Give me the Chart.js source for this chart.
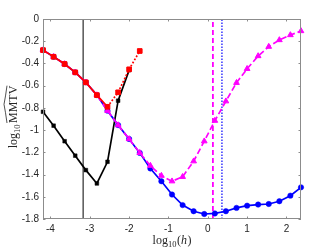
<!DOCTYPE html>
<html>
<head>
<meta charset="utf-8">
<script src="https://cdn.jsdelivr.net/npm/chart.js@4.4.0/dist/chart.umd.min.js"></script>
<style>
  html, body { margin: 0; padding: 0; background: #fff; }
</style>
</head>
<body>
<canvas id="c" width="332" height="249"></canvas>
<script>
// log10(h) grid shared by all curves
const logH = [-4.19, -3.92, -3.64, -3.37, -3.10, -2.82, -2.55, -2.28, -2.00, -1.73,
  -1.46, -1.18, -0.91, -0.64, -0.36, -0.09, 0.18, 0.46, 0.73, 1.00,
  1.28, 1.55, 1.82, 2.10, 2.37];

const redY = [-0.28, -0.34, -0.405, -0.48, -0.57, -0.685, -0.79, -0.66, -0.453, -0.288];
const magentaY = [-0.28, -0.34, -0.405, -0.48, -0.57, -0.685, -0.825, -0.955, -1.08, -1.205,
  -1.32, -1.41, -1.46, -1.42, -1.28, -1.10, -0.915, -0.74, -0.574, -0.448,
  -0.333, -0.249, -0.189, -0.144, -0.108];
const blueY = [-0.28, -0.34, -0.405, -0.48, -0.57, -0.685, -0.825, -0.955, -1.08, -1.205,
  -1.345, -1.46, -1.58, -1.675, -1.73, -1.755, -1.75, -1.73, -1.70, -1.68,
  -1.67, -1.665, -1.64, -1.59, -1.515];
const blackY = [-0.835, -0.96, -1.10, -1.23, -1.36, -1.48, -1.285, -0.735, -0.46];

const vBlackX = -3.17;
const vMagentaX = 0.13;
const vBlueX = 0.36;

const xTicks = [-4, -3, -2, -1, 0, 1, 2];
const yTicks = [0, -0.2, -0.4, -0.6, -0.8, -1, -1.2, -1.4, -1.6, -1.8];
const xRange = [-4.19, 2.37];
const yRange = [-1.8, 0];

const pts = ys => ys.map((y, i) => ({ x: logH[i], y }));
const vline = x => [{ x, y: yRange[0] }, { x, y: yRange[1] }];

const AXIS = '#8c8c8c';
const TXT = '#262626';
const SERIF = '"Liberation Serif", "DejaVu Serif", serif';
const SANS = '10px "Liberation Sans", Arial, sans-serif';

const fmtY = v => (v === 0 ? '0' : String(+v.toFixed(1)));

// MATLAB-like box with inward ticks, tick labels and axis titles
const boxPlugin = {
  id: 'box',
  afterDraw(chart) {
    const { ctx, chartArea: a, scales } = chart;
    ctx.save();
    ctx.strokeStyle = AXIS;
    ctx.lineWidth = 1;
    ctx.strokeRect(a.left + 0.5, a.top + 0.5, a.right - a.left - 1, a.bottom - a.top - 1);
    ctx.beginPath();
    const tl = 2.5;
    xTicks.forEach(v => {
      const px = Math.round(scales.x.getPixelForValue(v)) + 0.5;
      ctx.moveTo(px, a.bottom); ctx.lineTo(px, a.bottom - tl);
      ctx.moveTo(px, a.top); ctx.lineTo(px, a.top + tl);
    });
    yTicks.forEach(v => {
      const py = Math.round(scales.y.getPixelForValue(v)) + 0.5;
      ctx.moveTo(a.left, py); ctx.lineTo(a.left + tl, py);
      ctx.moveTo(a.right, py); ctx.lineTo(a.right - tl, py);
    });
    ctx.stroke();

    ctx.fillStyle = TXT;
    ctx.strokeStyle = TXT;
    ctx.font = SANS;
    ctx.textBaseline = 'middle';
    ctx.textAlign = 'center';
    xTicks.forEach(v => ctx.fillText(String(v), scales.x.getPixelForValue(v), a.bottom + 10));
    ctx.textAlign = 'right';
    yTicks.forEach(v => ctx.fillText(fmtY(v), a.left - 4, scales.y.getPixelForValue(v)));

    ctx.textBaseline = 'alphabetic';
    ctx.textAlign = 'left';
    const big = '12px ' + SERIF;
    const small = '8.5px ' + SERIF;
    const ital = 'italic 12px ' + SERIF;

    // x title: log10(h)
    ctx.font = big; const wLog = ctx.measureText('log').width;
    ctx.font = small; const w10 = ctx.measureText('10').width;
    ctx.font = big; const wP = ctx.measureText('(').width;
    ctx.font = ital; const wH = ctx.measureText('h').width;
    let total = wLog + w10 + wP * 2 + wH + 1;
    let x0 = (a.left + a.right) / 2 - total / 2;
    const by = 244;
    ctx.font = big; ctx.fillText('log', x0, by); x0 += wLog;
    ctx.font = small; ctx.fillText('10', x0, by + 3); x0 += w10 + 0.5;
    ctx.font = big; ctx.fillText('(', x0, by); x0 += wP;
    ctx.font = ital; ctx.fillText('h', x0, by); x0 += wH + 0.5;
    ctx.font = big; ctx.fillText(')', x0, by);

    // y title: log10 MMTV with wide hat
    ctx.save();
    ctx.translate(16.5, (a.top + a.bottom) / 2 - 2);
    ctx.rotate(-Math.PI / 2);
    ctx.font = big; const wM = ctx.measureText('MMTV').width;
    total = wLog + w10 + 1.5 + wM;
    x0 = -total / 2;
    ctx.font = big; ctx.fillText('log', x0, 0); x0 += wLog;
    ctx.font = small; ctx.fillText('10', x0, 3); x0 += w10 + 1.5;
    ctx.font = big; ctx.fillText('MMTV', x0, 0);
    ctx.lineWidth = 0.8;
    ctx.beginPath();
    ctx.moveTo(x0, -9.5);
    ctx.quadraticCurveTo(x0 + wM * 0.3, -11, x0 + wM / 2, -12.5);
    ctx.quadraticCurveTo(x0 + wM * 0.7, -11, x0 + wM, -9.5);
    ctx.stroke();
    ctx.restore();
    ctx.restore();
  }
};

new Chart(document.getElementById('c'), {
  type: 'line',
  data: {
    datasets: [
      {
        data: pts(redY), borderColor: '#ff0000', backgroundColor: '#ff0000',
        borderWidth: 1.7, pointStyle: 'rect', pointRadius: 3.3, pointBorderWidth: 1,
        segment: { borderDash: c => (c.p0DataIndex >= 6 ? [1.8, 1.8] : undefined) }
      },
      {
        data: pts(magentaY), borderColor: '#ff00ff', backgroundColor: '#ff00ff',
        borderWidth: 1.7, borderDash: [6, 3], pointStyle: 'triangle', pointRadius: 3.3, pointBorderWidth: 1
      },
      {
        data: pts(blueY), borderColor: '#0000ff', backgroundColor: '#0000ff',
        borderWidth: 1.7, pointStyle: 'circle', pointRadius: 2.7, pointBorderWidth: 0.5
      },
      {
        data: pts(blackY), borderColor: '#000000', backgroundColor: '#000000',
        borderWidth: 1.7, pointStyle: 'rect', pointRadius: 2.6, pointBorderWidth: 0.5
      },
      { data: vline(vBlackX), borderColor: '#000000', borderWidth: 1, pointRadius: 0 },
      { data: vline(vMagentaX), borderColor: '#ff00ff', borderWidth: 1.8, borderDash: [5, 3], pointRadius: 0 },
      { data: vline(vBlueX), borderColor: '#0000ff', borderWidth: 1.2, borderDash: [1.5, 1.5], pointRadius: 0 }
    ]
  },
  options: {
    responsive: false,
    animation: false,
    clip: false,
    layout: { padding: { left: 43, top: 19, right: 31, bottom: 30 } },
    plugins: { legend: { display: false }, tooltip: { enabled: false } },
    elements: { line: { tension: 0 } },
    scales: {
      x: { type: 'linear', min: xRange[0], max: xRange[1], display: false },
      y: { type: 'linear', min: yRange[0], max: yRange[1], display: false }
    }
  },
  plugins: [boxPlugin]
});
</script>
</body>
</html>
